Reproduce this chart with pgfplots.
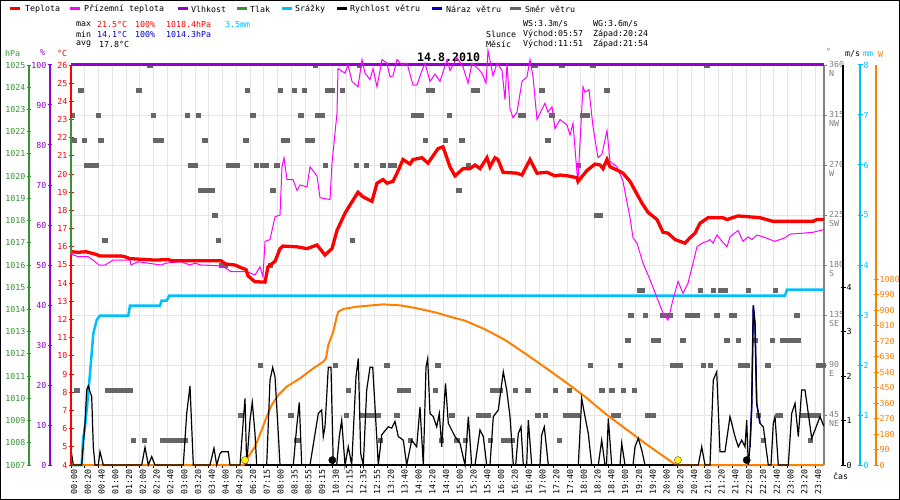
\documentclass[border=0pt]{standalone}
\usepackage{fontspec}
\setmainfont{DejaVu Sans Mono}
\setmonofont{DejaVu Sans Mono}
\usepackage{pgfplots}
\pgfplotsset{compat=1.18}

\definecolor{cT}{RGB}{255,0,0}
\definecolor{cA}{RGB}{255,0,255}
\definecolor{cH}{RGB}{148,0,211}
\definecolor{cP}{RGB}{51,150,51}
\definecolor{cR}{RGB}{0,191,255}
\definecolor{cG}{RGB}{0,0,204}
\definecolor{cD}{RGB}{102,102,102}
\definecolor{cS}{RGB}{255,128,0}
\definecolor{cAx}{RGB}{128,128,128}
\definecolor{cGrid}{RGB}{230,230,230}
\definecolor{cMin}{RGB}{0,0,220}

\newcommand\sz{\fontsize{8.3}{8.6}\selectfont}

\pgfplotsset{
  base/.style={at={(71pt,-465pt)}, anchor=south west, width=753pt, height=400pt,
    scale only axis, xmin=71, xmax=824, clip=false,
    /pgf/number format/assume math mode=true, tick label style={font=\sz}},
  hid/.style={base, hide axis},
  sc/.style={anchor=south west, width=1pt, height=400pt, scale only axis,
    xmin=0, xmax=1, hide x axis, /pgf/number format/assume math mode=true,
    tick label style={font=\sz, inner sep=1pt}, tick align=center, major tick length=5pt},
}

\begin{document}
\begin{tikzpicture}[x=1pt,y=1pt]
\useasboundingbox (0,-500) rectangle (900,0);
\fill[white] (0,-500) rectangle (900,0);

% ---------- legend ----------
\draw[cT, line width=3pt] (10,-9) -- (20,-9);
\node[anchor=west,inner sep=0] at (25,-9) {\sz Teplota};
\draw[cA, line width=3pt] (70,-9) -- (80,-9);
\node[anchor=west,inner sep=0] at (84,-9) {\sz Přízemní teplota};
\draw[cH, line width=3pt] (178,-9) -- (188,-9);
\node[anchor=west,inner sep=0] at (191,-9) {\sz Vlhkost};
\draw[cP, line width=3pt] (237,-9) -- (247,-9);
\node[anchor=west,inner sep=0] at (250,-9) {\sz Tlak};
\draw[cR, line width=3pt] (282,-9) -- (292,-9);
\node[anchor=west,inner sep=0] at (295,-9) {\sz Srážky};
\draw[black, line width=3pt] (337,-9) -- (347,-9);
\node[anchor=west,inner sep=0] at (350,-9) {\sz Rychlost větru};
\draw[cG, line width=3pt] (432,-9) -- (442,-9);
\node[anchor=west,inner sep=0] at (446,-9) {\sz Náraz větru};
\draw[cD, line width=3pt] (510,-9) -- (521,-9);
\node[anchor=west,inner sep=0] at (525,-9) {\sz Směr větru};

% ---------- info block ----------
\node[anchor=west,inner sep=0] at (76,-24) {\sz max};
\node[anchor=west,inner sep=0,text=cT] at (97,-24) {\sz 21.5°C};
\node[anchor=west,inner sep=0,text=cT] at (135,-24) {\sz 100\%};
\node[anchor=west,inner sep=0,text=cT] at (166,-24) {\sz 1018.4hPa};
\node[anchor=west,inner sep=0,text=cR] at (225,-24) {\sz 3.5mm};
\node[anchor=west,inner sep=0] at (76,-34) {\sz min};
\node[anchor=west,inner sep=0,text=cMin] at (97,-34) {\sz 14.1°C};
\node[anchor=west,inner sep=0,text=cMin] at (135,-34) {\sz 100\%};
\node[anchor=west,inner sep=0,text=cMin] at (166,-34) {\sz 1014.3hPa};
\node[anchor=west,inner sep=0] at (76,-44) {\sz avg};
\node[anchor=west,inner sep=0] at (99,-44) {\sz 17.8°C};

\node[anchor=west,inner sep=0] at (523,-24) {\sz WS:3.3m/s};
\node[anchor=west,inner sep=0] at (593,-24) {\sz WG:3.6m/s};
\node[anchor=west,inner sep=0] at (486,-34) {\sz Slunce};
\node[anchor=west,inner sep=0] at (523,-34) {\sz Východ:05:57};
\node[anchor=west,inner sep=0] at (593,-34) {\sz Západ:20:24};
\node[anchor=west,inner sep=0] at (486,-44) {\sz Měsíc};
\node[anchor=west,inner sep=0] at (523,-44) {\sz Východ:11:51};
\node[anchor=west,inner sep=0] at (593,-44) {\sz Západ:21:54};

\node[anchor=west,inner sep=0] at (417,-57) {\fontsize{11.6}{12}\selectfont\bfseries 14.8.2010};

% unit labels
\node[anchor=west,inner sep=0,text=cP] at (5,-53) {\sz hPa};
\node[anchor=west,inner sep=0,text=cH] at (40,-53) {\sz \%};
\node[anchor=west,inner sep=0,text=cT] at (57,-53) {\sz °C};
\node[anchor=west,inner sep=0,text=cAx] at (826,-51) {\sz °};
\node[anchor=west,inner sep=0] at (845,-54) {\sz m/s};
\node[anchor=west,inner sep=0,text=cR] at (863,-54) {\sz mm};
\node[anchor=west,inner sep=0,text=cS] at (878,-54) {\sz W};
\node[anchor=west,inner sep=0] at (833,-476) {\sz čas};

% ---------- axis 1: grid, time labels, wind direction ----------
\begin{axis}[base, ymin=0, ymax=360,
  axis x line*=bottom, axis y line*=right,
  x axis line style={-, black, line width=1.5pt},
  y axis line style={-, cAx, line width=1.5pt},
  xtick={71,84.78,...,816},
  xticklabels={00:00,00:20,00:40,01:00,01:20,02:00,02:20,02:40,03:00,03:20,03:40,04:00,04:20,06:20,07:15,08:00,08:35,08:55,09:15,10:30,12:15,12:35,12:55,13:20,13:40,14:00,14:20,14:40,15:00,15:20,15:40,16:00,16:20,16:40,17:00,17:20,17:40,18:00,18:20,18:40,19:00,19:20,19:40,20:00,20:20,20:40,21:00,21:20,21:40,22:00,22:20,22:40,23:00,23:20,23:40},
  x tick label style={rotate=90, anchor=east, font=\sz, inner sep=1pt, yshift=-3pt},
  xtick style={black, line width=1pt}, 
  ytick={45,90,...,360},
  yticklabels={{45\\NE},{90\\E},{135\\SE},{180\\S},{225\\SW},{270\\W},{315\\NW},{360\\N}},
  y tick label style={align=left, anchor=west, font=\sz, text=cAx, inner sep=0pt, xshift=2pt, yshift=-4pt},
  ytick style={cAx, line width=1pt},
  tick align=outside, major tick length=3pt,
  xmajorgrids, ymajorgrids, major grid style={cGrid, line width=1pt}]
\addplot[only marks, mark=square*, mark size=2.3pt, color=cD] coordinates {
(149.7,360)(315,360)(359.3,360)(533,360)(535,360)(561.7,360)(592.7,360)(706.7,360)
(80.7,337.5)(138.7,337.5)(247,337.5)(280,337.5)(294,337.5)(304,337.5)(327,337.5)(330,337.5)(332,337.5)(342,337.5)(428,337.5)(432,337.5)(473,337.5)(477,337.5)(541.7,337.5)(606.7,337.5)
(72,315)(98,315)(153,315)(187,315)(198,315)(252.7,315)(300.7,315)(317,315)(320,315)(322,315)(413,315)(416,315)(419,315)(421,315)(449,315)(520,315)(523,315)(551.7,315)(582,315)(585,315)(587,315)
(74,292.5)(84,292.5)(100.7,292.5)(155,292.5)(158,292.5)(161,292.5)(204.7,292.5)(245.7,292.5)(283,292.5)(287,292.5)(307,292.5)(310,292.5)(312,292.5)(425,292.5)(445,292.5)(461.7,292.5)(547.7,292.5)
(86,270)(89,270)(92,270)(96,270)(190,270)(195,270)(228,270)(231,270)(234,270)(237,270)(256,270)(262,270)(264,270)(266,270)(276.7,270)(325,270)(356,270)(366,270)(382.7,270)(390,270)(394,270)(468,270)(578,270)
(200.7,247.5)(206,247.5)(209,247.5)(212,247.5)(272.7,247.5)(458.7,247.5)
(214.7,225)(596,225)(600,225)
(104.7,202.5)(218,202.5)(352,202.5)
(221,180)(225,180)(270,180)
(639.3,157.5)(642,157.5)(700,157.5)(713,157.5)(720,157.5)(723,157.5)(725,157.5)(748,157.5)(775,157.5)
(630.7,135)(645,135)(662,135)(665,135)(668,135)(670,135)(687,135)(690,135)(693,135)(697,135)(716.7,135)(731,135)(734,135)(796.7,135)
(627.7,112.5)(653,112.5)(656,112.5)(658,112.5)(682.7,112.5)(726.7,112.5)(738,112.5)(755,112.5)(772,112.5)(782,112.5)(785,112.5)(788,112.5)(791,112.5)(795,112.5)(798,112.5)
(260,90)(335,90)(386.7,90)(437.7,90)(590,90)(620,90)(672,90)(675,90)(678,90)(680,90)(703,90)(710,90)(740,90)(743,90)(747,90)(767.7,90)(818,90)(821,90)(823,90)
(76.7,67.5)(107,67.5)(110,67.5)(113,67.5)(116,67.5)(119,67.5)(122,67.5)(125,67.5)(128,67.5)(130,67.5)(348,67.5)(399,67.5)(402,67.5)(405,67.5)(408,67.5)(435,67.5)(492,67.5)(495,67.5)(498,67.5)(500,67.5)(515,67.5)(527.7,67.5)(555,67.5)(569,67.5)(601.7,67.5)(611.7,67.5)(623.3,67.5)(634,67.5)
(240,45)(290.7,45)(346,45)(362.7,45)(368,45)(371,45)(374,45)(378,45)(396.7,45)(451.7,45)(478,45)(481,45)(484,45)(488,45)(537.7,45)(545,45)(565,45)(568,45)(571,45)(574,45)(577,45)(613,45)(616,45)(618,45)(647,45)(650,45)(653,45)(758,45)(778,45)(780,45)(802,45)(805,45)(808,45)(812,45)(815,45)(818,45)
(133,22.5)(144,22.5)(162,22.5)(165,22.5)(168,22.5)(171,22.5)(174,22.5)(177,22.5)(180,22.5)(183,22.5)(185,22.5)(296.7,22.5)(380,22.5)(410,22.5)(441,22.5)(456.7,22.5)(465,22.5)(490,22.5)(503,22.5)(506,22.5)(509,22.5)(512,22.5)(559,22.5)(763,22.5)(810,22.5)
};
\end{axis}

% ---------- humidity ----------
\begin{axis}[hid, ymin=0, ymax=100]
\addplot[cH, line width=3pt] coordinates {(71,100)(200,100)(400,100)(600,100)(824,100)};
\end{axis}

% ---------- precipitation ----------
\begin{axis}[hid, ymin=0, ymax=8]
\addplot[cR, line width=2.5pt] coordinates {
(71,0)(81.7,0)(83,0.5)(85,0.77)(87,1.16)(90,1.83)(93.3,2.63)(96.7,2.9)(100,2.99)(128.3,2.99)(130,3.19)(160,3.19)(161.7,3.29)(166.7,3.29)(169.3,3.39)(785,3.39)(787,3.51)(824,3.51)};
\end{axis}

% ---------- solar radiation ----------
\begin{axis}[hid, ymin=0, ymax=2322.6]
\addplot[cS, line width=2pt] coordinates {
(71,0)(243.3,0)(248.3,48)(255,106)(261.7,203)(266.7,281)(271.7,348)(278.3,406)(286.7,455)(300,503)(313.3,561)(323.3,600)(326,619)(328.3,697)(333.3,774)(336.7,861)(338.3,890)(343.3,906)(356.7,919)(383.3,933)(400,927)(416.7,910)(436.7,884)(450,861)(465,838)(485,788)(505,726)(525,648)(545,567)(565,484)(585,397)(605,300)(625,213)(645,126)(661.7,58)(675,4)(678,0)(824,0)};
\end{axis}

% ---------- wind speed and gust ----------
\begin{axis}[hid, ymin=0, ymax=9.009]
\addplot[cG, line width=1.5pt] coordinates {(750,0.41)(751.7,1.31)(753.3,3.6)(755,3.2)(756.7,1.39)(760,0.94)};
\addplot[black, line width=1.2pt] coordinates {
(71,0.34)(73.3,0)(81.7,0)(85,0.94)(86.7,1.69)(88.3,1.78)(90,1.65)(91.7,1.54)(93.3,0.41)(95,0)(98.3,0)(100,0.3)(103.3,0)
(141.7,0)(145,0.4)(148.3,0)(151.7,0.19)(155,0)(183.3,0)(186.7,1.16)(190,1.78)(193.3,0)(210,0)(214,0.38)(216.7,0)(220,0.26)(221.7,0.3)(228.3,0.3)(230,0)
(240,0)(243.3,1.01)(245,1.5)(246.7,0)(250,1.01)(252.3,1.41)(255,0.71)(256.7,0)(266.7,0)(270,1.91)(272.7,2.2)(275,1.99)(278.3,0.71)(280,0)
(293.3,0)(296.7,0.86)(299.3,1.41)(301.7,0)(310,0)(318.3,1.16)(321.7,1.24)(323.3,0.64)(325,0.86)(328.3,2.2)(331,2.2)(333.3,0)(336.7,0)(339.3,0.64)(341.7,1.01)(345,0)(348.3,0.41)(351.7,0)
(356,1.99)(358.3,2.4)(360.7,0.26)(363.3,0)(366.7,1.69)(370,2.2)(372.7,2.2)(375,1.31)(378.3,0)(381.7,0.68)(388.3,0.86)(391.7,0.83)(395,0.98)(398.3,0.64)(403.3,0.56)(406.7,0)
(411.7,0.56)(416.7,0.41)(420,1.31)(423.3,0)(426,2.21)(427.7,2.4)(430,1.16)(433.3,1.09)(436.7,0.86)(439.3,1.16)(441.7,0.41)(444,1.31)(445.5,1.84)(448.3,0.94)(455,0.64)(460,0.49)(465,0)
(468.3,1.09)(471.7,0)(475,0)(480,0.79)(483.3,0.64)(486.7,0)(490,0)(493.3,1.09)(498.3,1.24)(503.3,2.1)(506.7,1.69)(510,1.09)(513.3,0)(515.7,0)(518.3,0.71)(521,0.86)(523.3,0)(526.7,0)(528.3,1.01)(531.7,0)
(540,0)(541.7,0.68)(544.3,0.86)(548.3,0)(578.3,0)(581.7,1.5)(585,1.09)(588.3,0.71)(591.7,0)(598.3,0)(601.7,0.56)(605,0)(606.5,0)(608.3,1.05)(611.7,0)(620,0)(621.7,0.49)(625,0)(633,0)(635,0.41)(638.3,0.6)(641.7,0.34)(645,0)
(698.3,0)(701.7,0.41)(705,0)(710,0)(713.3,1.91)(716.7,2.1)(720,0.3)(725,0.3)(730,1.09)(731.7,0.94)(735,0.64)(738.3,0.41)(741.7,0.56)(745,0.41)(746.7,1.01)(748.3,0)(750,0.41)(751.7,1.31)(753.3,3.57)(755,3.15)(756.7,1.39)(760,0.94)(763.3,0.86)(768.3,0)
(771,0)(773.3,0.94)(775,1.09)(778.3,0)(788.3,0)(791.7,1.16)(795,1.39)(798.3,0.64)(801.7,1.69)(805,1.69)(808.3,1.16)(811.7,0.6)(815,0.79)(820,1.09)(823.3,0.9)(824,0.88)};
% sunrise/sunset and moonrise/moonset markers
\addplot[only marks, mark=*, mark size=3.6pt, mark options={fill=yellow, draw=black!60, line width=0.5pt}] coordinates {(245,0.11)(678,0.11)};
\addplot[only marks, mark=*, mark size=3.6pt, mark options={fill=black, draw=black}] coordinates {(332.3,0.11)(746.7,0.11)};
\end{axis}

% ---------- temperatures (with red axis) ----------
\begin{axis}[base, ymin=4, ymax=26, hide x axis, axis y line*=left,
  y axis line style={-, cT, line width=1.5pt},
  ytick={4,5,...,26}, y tick label style={text=cT, inner sep=1pt},
  ytick style={cT, line width=1pt}, tick align=center, major tick length=5pt]
\addplot[cA, line width=1pt] coordinates {
(71,15.6)(78,15.46)(88,15.46)(93,15.27)(99,15.0)(105,15.0)(108,15.1)(113,15.27)(130,15.27)(131,15.0)(138,15.18)(161,15.0)(166,15.1)(181,15.18)(190,15.0)(195,15.1)(201,15.0)(218,14.96)(226,14.82)(231,14.63)(247,14.63)(255,14.45)(260,14.9)(263,14.35)
(265,16.3)(270,16.4)(275,17.65)(280,17.75)(282,20.4)(284,20.9)(287,19.7)(293,19.7)(297,19.1)(300,19.4)(307,19.3)(310,20.4)(317,19.9)(320,18.7)(330,18.6)(332,20.6)(337,23.35)(338,25.8)(345,25.55)(348,26.0)(352,25.1)(358,24.8)
(362,26.3)(365,25.55)(370,25.2)(373,25.8)(377,24.8)(382,26.3)(387,26.1)(390,25.35)(393,25.4)(397,26.3)(402,26.0)(407,26.1)(413,24.9)(417,24.9)(422,25.7)(425,26.1)(430,25.1)(435,25.5)(440,25.1)(447,26.3)(450,25.7)(457,26.4)(463,25.9)(468,25.0)(472,26.1)(478,25.8)(482,25.55)(486,25.0)(488,26.8)(493,25.4)(497,26.1)(502,25.7)(505,24.1)(507,26.1)(510,23.6)(513,23.1)(517,23.4)(522,25.1)(527,25.35)(530,26.3)
(533,25.35)(537,23.0)(545,23.9)(548,23.4)(552,23.7)(555,22.5)(560,23.0)(567,22.7)(570,22.15)(573,22.8)(577,20.05)(578,19.7)(583,24.8)(585,24.5)(589,24.65)(593,22.6)(598,20.9)(602,21.1)(607,22.4)(610,20.7)(617,20.4)(623,19.6)(630,17.6)(633,16.5)(637,16.2)(643,15.1)(650,14.2)(657,13.2)(663,12.35)(668,11.97)(673,13.1)(678,14.1)(683,13.45)(688,14.0)(693,15.1)(697,16.0)(702,16.2)(707,16.3)(710,16.4)(713,16.2)(717,16.65)(722,16.3)(727,16.0)(730,16.55)(738,16.9)(743,16.3)(748,16.55)(752,16.4)(757,16.65)(763,16.55)(775,16.3)(785,16.5)(790,16.7)(803,16.75)(813,16.8)(824,16.95)};
\addplot[cT, line width=3.3pt] coordinates {
(71,15.73)(78,15.7)(86,15.73)(95,15.6)(100,15.5)(121,15.5)(125,15.45)(130,15.35)(155,15.27)(168,15.3)(172,15.23)(221,15.23)(226,15.05)(235,15.0)(241,14.85)(246,14.75)(248,14.4)(255,14.08)(265,14.06)(268,14.9)(275,15.2)(280,15.9)(283,16.04)(297,16.0)(307,15.9)(317,16.1)(325,15.55)(332,15.9)(337,16.9)(345,17.85)(350,18.3)(358,19.0)(363,18.75)(372,18.5)(377,19.5)(383,19.7)(387,19.5)(393,19.6)(397,20.05)(403,20.8)(410,20.55)(413,20.8)(422,20.9)(428,20.6)(438,21.4)(443,21.5)(450,20.4)(455,19.9)(463,20.3)(470,20.3)(475,20.5)(480,20.3)(487,20.9)(490,20.4)(495,20.9)(498,20.8)(503,20.1)(517,20.05)(522,19.95)(530,20.8)(537,20.05)(547,20.1)(555,19.9)(560,19.95)(568,19.9)(577,19.8)(578,19.6)(587,20.2)(595,20.55)(600,20.5)(603,20.3)(607,20.8)(610,20.4)(618,20.2)(623,20.05)(630,19.6)(635,19.1)(642,18.4)(648,17.9)(657,17.5)(663,16.8)(668,16.75)(675,16.4)(685,16.2)(690,16.5)(695,16.75)(700,17.3)(708,17.6)(723,17.6)(727,17.5)(738,17.7)(760,17.6)(773,17.4)(813,17.4)(817,17.5)(824,17.5)};
\end{axis}

% ---------- pressure (green trace at left edge) ----------
\begin{axis}[hid, ymin=1007, ymax=1025]
\addplot[cP, line width=1.5pt] coordinates {(71,1022.6)(71,1016.5)};
\end{axis}

% ---------- scale axes ----------
\begin{axis}[sc, at={(29pt,-465pt)}, ymin=1007, ymax=1025, axis y line*=left,
  y axis line style={-, cP, line width=1.5pt}, ytick={1007,1008,...,1025},
  y tick label style={text=cP}, ytick style={cP, line width=1pt},
  /pgf/number format/set thousands separator={}]
\end{axis}
\begin{axis}[sc, at={(50pt,-465pt)}, ymin=0, ymax=100, axis y line*=left,
  y axis line style={-, cH, line width=1.5pt}, ytick={0,10,...,100},
  y tick label style={text=cH}, ytick style={cH, line width=1pt}]
\end{axis}
\begin{axis}[sc, at={(842pt,-465pt)}, ymin=0, ymax=9.009, axis y line*=right,
  y axis line style={-, black, line width=1.5pt}, ytick={0,1,2,3,4},
  ytick style={black, line width=1pt}]
\end{axis}
\begin{axis}[sc, at={(859pt,-465pt)}, ymin=0, ymax=8, axis y line*=right,
  y axis line style={-, cR, line width=1.5pt}, ytick={0,1,...,8},
  y tick label style={text=cR}, ytick style={cR, line width=1pt}]
\end{axis}
\begin{axis}[sc, at={(875pt,-465pt)}, ymin=0, ymax=2322.6, axis y line*=right,
  y axis line style={-, cS, line width=1.5pt}, ytick={0,90,...,1080},
  y tick label style={text=cS}, ytick style={cS, line width=1pt},
  /pgf/number format/set thousands separator={}]
\end{axis}

\draw[black, line width=1pt] (0.5,-499.5) rectangle (899.5,-0.5);
\end{tikzpicture}
\end{document}
